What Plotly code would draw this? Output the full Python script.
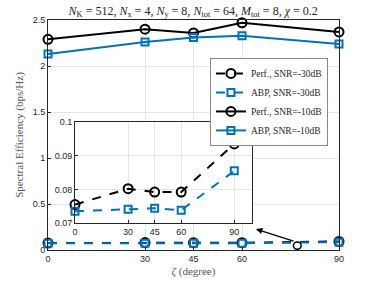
import plotly.graph_objects as go

zeta = [0, 30, 45, 60, 90]
perf_m30 = [0.0755, 0.0802, 0.0792, 0.0792, 0.0935]
abp_m30 = [0.0735, 0.0741, 0.0744, 0.0738, 0.0855]
perf_m10 = [2.29, 2.40, 2.36, 2.47, 2.37]
abp_m10 = [2.13, 2.26, 2.31, 2.33, 2.24]
main_yticks = [0, 0.5, 1, 1.5, 2, 2.5]
inset_yticks = [0.07, 0.08, 0.09, 0.1]

BLUE = "#0072BD"
BLACK = "#000000"
SERIF = "Liberation Serif, DejaVu Serif, serif"
SANS = "Liberation Sans, Arial, sans-serif"

fig = go.Figure()

series = [
    ("Perf., SNR=-30dB", perf_m30, BLACK, "dash", "circle-open", 9),
    ("ABP, SNR=-30dB", abp_m30, BLUE, "dash", "square-open", 7),
    ("Perf., SNR=-10dB", perf_m10, BLACK, "solid", "circle-open", 9),
    ("ABP, SNR=-10dB", abp_m10, BLUE, "solid", "square-open", 7),
]
for name, ys, col, dash, sym, sz in series:
    fig.add_trace(go.Scatter(
        x=zeta, y=ys, name=name, mode="lines+markers",
        line=dict(color=col, width=2, dash=dash),
        marker=dict(symbol=sym, size=sz, color=col, line=dict(width=2, color=col)),
        xaxis="x", yaxis="y", cliponaxis=False))

for name, ys, col, dash, sym, sz in series[:2]:
    fig.add_trace(go.Scatter(
        x=zeta, y=ys, name=name, mode="lines+markers", showlegend=False,
        line=dict(color=col, width=2, dash=dash),
        marker=dict(symbol=sym, size=sz, color=col, line=dict(width=2, color=col)),
        xaxis="x2", yaxis="y2", cliponaxis=False))

axis_common = dict(
    showline=True, mirror=True, linecolor="#262626", linewidth=1,
    ticks="inside", ticklen=3, tickcolor="#262626",
    showgrid=True, gridcolor="#e6e6e6", zeroline=False, automargin=False,
    tickfont=dict(family=SANS, size=9, color="#262626"),
)

fig.update_layout(
    width=375, height=281,
    margin=dict(l=48, r=36, t=20, b=31),
    paper_bgcolor="white", plot_bgcolor="white",
    title=dict(
        text="<i>N</i><sub>K</sub> = 512, <i>N</i><sub>x</sub> = 4, <i>N</i><sub>y</sub> = 8, "
             "<i>N</i><sub>tot</sub> = 64, <i>M</i><sub>tot</sub> = 8, <i>χ</i> = 0.2",
        font=dict(family=SERIF, size=12, color="#262626"),
        x=0.515, xanchor="center", y=0.978, yanchor="top", automargin=False),
    xaxis=dict(range=[0, 90], tickvals=zeta, domain=[0, 1],
               title=dict(text="<i>ζ</i> (degree)", font=dict(family=SERIF, size=11, color="#555555"), standoff=4),
               **axis_common),
    yaxis=dict(range=[0, 2.5], tickvals=main_yticks, ticktext=["0", "0.5", "1", "1.5", "2", "2.5"],
               domain=[0, 1],
               title=dict(text="Spectral Efficiency (bps/Hz)", font=dict(family=SERIF, size=11, color="#555555"), standoff=6),
               **axis_common),
    xaxis2=dict(range=[0, 100], tickvals=zeta, domain=[0.0928, 0.701], anchor="y2",
                **axis_common),
    yaxis2=dict(range=[0.07, 0.1], tickvals=inset_yticks, ticktext=["0.07", "0.08", "0.09", "0.1"],
                domain=[0.117, 0.5565], anchor="x2", **axis_common),
    legend=dict(x=0.962, xanchor="right", y=0.835, yanchor="top",
                bgcolor="white", bordercolor="#888888", borderwidth=1,
                font=dict(family=SERIF, size=9.5, color="#262626"),
                tracegroupgap=0, itemwidth=30),
    showlegend=True,
)

fig.add_shape(type="circle", xref="x", yref="y", x0=75.9, x1=78.3, y0=0.008, y1=0.088,
              line=dict(color="black", width=1.5))
fig.add_annotation(x=64.3, y=0.228, ax=76.4, ay=0.09, xref="x", yref="y", axref="x", ayref="y",
                   showarrow=True, arrowhead=2, arrowsize=1, arrowwidth=1.3, arrowcolor="black", text="")

fig.write_html("out.html", config={"displayModeBar": False},
               post_script="document.body.style.margin='0';document.body.style.padding='0';")
